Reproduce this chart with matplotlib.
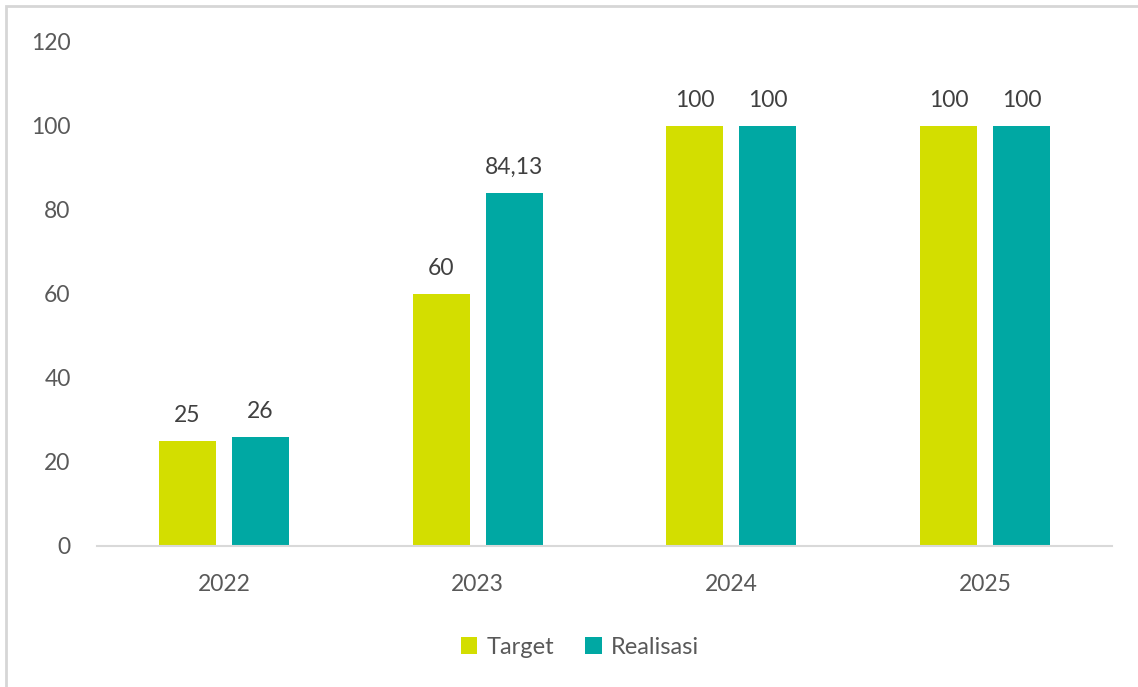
import matplotlib.pyplot as plt
import numpy as np
from matplotlib.patches import Rectangle

years = ["2022", "2023", "2024", "2025"]
target = [25, 60, 100, 100]
realisasi = [26, 84.13, 100, 100]
series_names = ["Target", "Realisasi"]
y_ticks = [0, 20, 40, 60, 80, 100, 120]

TARGET_COLOR = "#D3DE00"
REAL_COLOR = "#00A8A3"
TEXT_COLOR = "#595959"
FONT = "Lato"


def fmt_value(v):
    if float(v).is_integer():
        return str(int(v))
    return f"{v:.2f}".replace(".", ",")


def main():
    plt.rcParams["font.family"] = [FONT, "DejaVu Sans"]
    fig = plt.figure(figsize=(11.38, 6.87), dpi=100)
    fig.patches.append(Rectangle((6 / 1138, -0.1), 1.2, 1 - 6 / 687 + 0.1,
                                 transform=fig.transFigure, fill=False,
                                 edgecolor="#D6D6D6", linewidth=2.0))

    ax = fig.add_axes([97 / 1138, 1 - 546 / 687, (1112 - 97) / 1138, (546 - 42) / 687])
    x = np.arange(len(years))
    width = 0.225
    offset = 0.144
    bars_t = ax.bar(x - offset, target, width, color=TARGET_COLOR, label=series_names[0])
    bars_r = ax.bar(x + offset, realisasi, width, color=REAL_COLOR, label=series_names[1])

    for bars, vals in ((bars_t, target), (bars_r, realisasi)):
        for b, v in zip(bars, vals):
            ax.annotate(fmt_value(v), (b.get_x() + b.get_width() / 2, v),
                        xytext=(0, 11), textcoords="offset points",
                        ha="center", va="bottom", fontsize=16.5, color="#404040")

    ax.set_xlim(-0.5, len(years) - 0.5)
    ax.set_ylim(0, 120)
    ax.set_yticks(y_ticks)
    ax.set_xticks(x)
    ax.set_xticklabels(years)
    ax.tick_params(axis="both", length=0, labelsize=16.5, labelcolor=TEXT_COLOR)
    ax.tick_params(axis="y", pad=19)
    ax.tick_params(axis="x", pad=20)
    for side in ("top", "right", "left"):
        ax.spines[side].set_visible(False)
    ax.spines["bottom"].set_color("#D9D9D9")
    ax.spines["bottom"].set_linewidth(1.5)

    fig.legend(loc="center", bbox_to_anchor=(580 / 1138, 1 - 647 / 687), ncol=2,
               frameon=False, fontsize=17, labelcolor=TEXT_COLOR,
               handlelength=0.7, handleheight=0.7, handletextpad=0.4,
               columnspacing=1.3)

    fig.savefig("out.png", dpi=100)
    plt.close(fig)


if __name__ == "__main__":
    main()
